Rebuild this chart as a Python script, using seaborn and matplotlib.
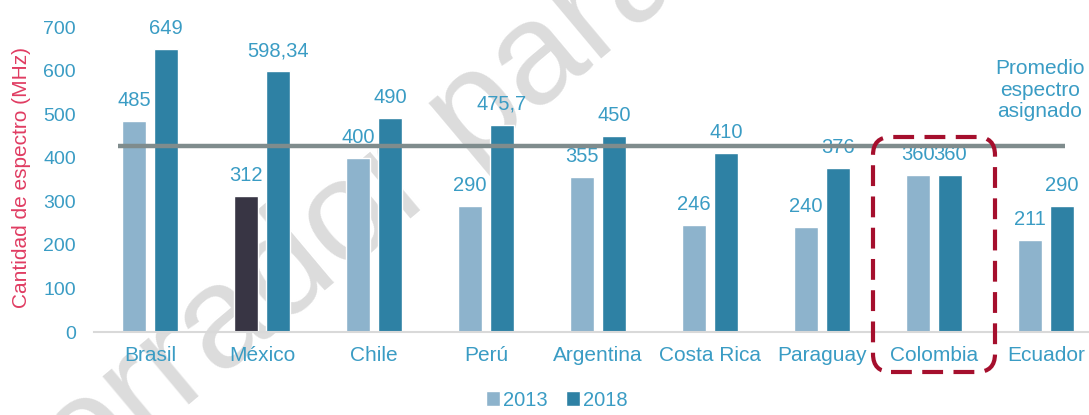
import numpy as np
import pandas as pd
import seaborn as sns
import matplotlib.pyplot as plt
from matplotlib.patches import FancyBboxPatch, Patch
from matplotlib.transforms import IdentityTransform

# ---- data ----
countries = ["Brasil", "México", "Chile", "Perú", "Argentina",
             "Costa Rica", "Paraguay", "Colombia", "Ecuador"]
values_2013 = [485, 312, 400, 290, 355, 246, 240, 360, 211]
values_2018 = [649, 598.34, 490, 475.7, 450, 410, 376, 360, 290]
years = ["2013", "2018"]
promedio = 428
y_ticks = [0, 100, 200, 300, 400, 500, 600, 700]

# ---- style ----
c2013 = "#8db3cc"
c2018 = "#2e81a4"
c_mex = "#383544"
c_text = "#3a9cc4"
c_ylab = "#e03c62"
c_avg = "#7f8c8d"
c_box = "#a50f2d"

sns.set_theme(style="white")
plt.rcParams['font.family'] = ['Liberation Sans', 'DejaVu Sans']

W, H = 1089, 415
fig = plt.figure(figsize=(W / 100, H / 100), dpi=100)
ax = fig.add_axes([94 / W, 83 / H, 1008 / W, 305 / H])
ax.patch.set_alpha(0)

df = pd.DataFrame({
    "País": countries * 2,
    "Año": [years[0]] * len(countries) + [years[1]] * len(countries),
    "MHz": values_2013 + values_2018,
})

sns.barplot(data=df, x="País", y="MHz", hue="Año", palette=[c2013, c2018],
            width=0.57, gap=0.23, saturation=1, ax=ax, legend=False,
            errorbar=None, zorder=2)

# Mexico 2013 highlighted
ax.containers[0][countries.index("México")].set_facecolor(c_mex)

def fmt(v):
    return f"{v:g}".replace(".", ",")

for cont in ax.containers:
    ax.bar_label(cont, labels=[fmt(v) for v in cont.datavalues], padding=8,
                 color=c_text, fontsize=14.5)

# average line
ax.hlines(promedio, -0.29, 8.17, color=c_avg, lw=3.2, zorder=3)

ax.set_ylim(0, 700)
ax.set_xlim(-0.5, 8.5)
ax.set_yticks(y_ticks)
ax.set_xlabel("")
ax.set_ylabel("")
ax.tick_params(axis="y", length=0, pad=13, labelcolor=c_text, labelsize=14)
ax.tick_params(axis="x", length=0, pad=10, labelcolor=c_text, labelsize=15)
for s in ["left", "right", "top"]:
    ax.spines[s].set_visible(False)
ax.spines["bottom"].set_color("#d9d9d9")
ax.spines["bottom"].set_linewidth(1.5)
ax.grid(False)

fig.text(22 / W, 1 - 177 / H, "Cantidad de espectro (MHz)", rotation=90,
         ha="center", va="center", color=c_ylab, fontsize=15)

fig.text(1040 / W, 1 - 90 / H, "Promedio\nespectro\nasignado", ha="center",
         va="center", multialignment="center", color=c_text, fontsize=15,
         linespacing=1.15)

# legend
handles = [Patch(facecolor=c2013), Patch(facecolor=c2018)]
fig.legend(handles, years, loc="center", bbox_to_anchor=(557 / W, 1 - 400 / H),
           ncol=2, frameon=False, handlelength=0.7, handleheight=0.7,
           handletextpad=0.15, columnspacing=0.9, fontsize=14.5,
           labelcolor=c_text, borderaxespad=0, borderpad=0)

# highlight box around Colombia
box = FancyBboxPatch((873, 43), 122, 235,
                     boxstyle="round,pad=0,rounding_size=18",
                     transform=IdentityTransform(), fill=False,
                     edgecolor=c_box, lw=3, linestyle=(0, (5, 2.5)),
                     clip_on=False, zorder=5)
fig.add_artist(box)

# watermark
wm = fig.text(10 / W, -140 / H, "Borrador para discusión", rotation=40,
              rotation_mode="anchor", ha="left", va="baseline",
              color="#dcdcdc", fontsize=104, zorder=-1)

fig.savefig("out.png", dpi=100)
